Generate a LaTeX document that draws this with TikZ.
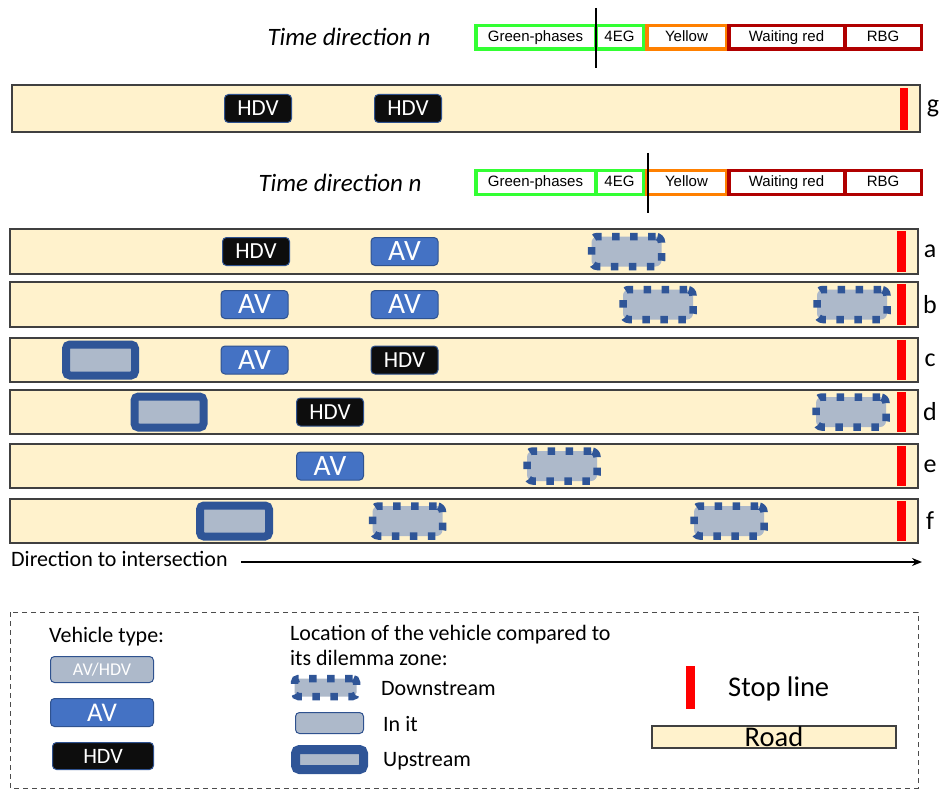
\documentclass[tikz,border=0pt]{standalone}
\usepackage{fontspec}
\setmainfont{Carlito}
\newfontfamily\arialf{Liberation Sans}
\usetikzlibrary{arrows.meta}
\definecolor{roadc}{HTML}{FFF2CC}
\definecolor{avc}{HTML}{4472C4}
\definecolor{hdvc}{HTML}{0D0D0D}
\definecolor{edgec}{HTML}{2F528F}
\definecolor{greyc}{HTML}{ADB9CA}
\definecolor{dzc}{HTML}{2F5597}
\definecolor{greenc}{HTML}{33FF33}
\definecolor{orangec}{HTML}{FF8000}
\definecolor{darkredc}{HTML}{B00000}
\tikzset{
  road/.style={draw=black!75, line width=1.3pt, fill=roadc},
  stopl/.style={fill=red, draw=none},
  veh/.style={rounded corners=4pt, line width=1pt, draw=edgec, inner sep=0pt, minimum width=67pt, minimum height=28pt},
  hdv/.style={veh, fill=hdvc, text=white, font=\fontsize{23}{23}\selectfont},
  av/.style={veh, fill=avc, text=white, font=\fontsize{29.5}{29.5}\selectfont},
  down/.style={fill=greyc, draw=dzc, line width=7.5pt, dash pattern=on 7.5pt off 10.5pt, rounded corners=6pt, minimum width=70pt, minimum height=30pt, inner sep=0pt},
  up/.style={fill=greyc, draw=dzc, line width=8pt, rounded corners=4pt, minimum width=69pt, minimum height=31pt, inner sep=0pt},
  seg/.style={draw=#1, line width=3.5pt, fill=white, font=\arialf\fontsize{15}{15}\selectfont, inner sep=0pt, minimum height=23.5pt, text height=10.5pt, text depth=2.5pt},
  lbl/.style={font=\fontsize{26}{26}\selectfont},
  tdir/.style={font=\itshape\fontsize{25}{25}\selectfont},
  txt/.style={font=\fontsize{22}{22}\selectfont, anchor=west, inner sep=0pt},
}
\begin{document}
\begin{tikzpicture}[x=1pt,y=-1pt]
\useasboundingbox (0,0) rectangle (940,789);

% ---- timeline 1
\node[tdir] (td1) at (349,37) {Time direction n};
\node[seg=greenc, minimum width=119.5pt] (g1a) at (535.5,37.5) {Green-phases};
\node[seg=greenc, minimum width=47.5pt] (g1b) at (619.5,37.5) {4EG};
\node[seg=orangec, minimum width=79.5pt] (y1) at (686.5,37.5) {Yellow};
\node[seg=darkredc, minimum width=115.5pt] (w1) at (786.5,37.5) {Waiting red};
\node[seg=darkredc, minimum width=76.5pt] (r1) at (883,37.5) {RBG};
\coordinate (t1a) at (596,8); \coordinate (t1b) at (596,68);
\draw[line width=2pt] (t1a) -- (t1b);

% ---- road g
\draw[road] (12,85) rectangle (920,132);
\fill[stopl] (900,88) rectangle (908,130);
\node[lbl] (lg) at (933,108) {g};
\node[hdv] (g1) at (258,108.5) {HDV};
\node[hdv] (g2) at (408,108.5) {HDV};

% ---- timeline 2
\node[tdir] (td2) at (340,183) {Time direction n};
\node[seg=greenc, minimum width=119.5pt] (g2a) at (535.5,182.5) {Green-phases};
\node[seg=greenc, minimum width=47.5pt] (g2b) at (619.5,182.5) {4EG};
\node[seg=orangec, minimum width=79.5pt] (y2) at (686.5,182.5) {Yellow};
\node[seg=darkredc, minimum width=115.5pt] (w2) at (786.5,182.5) {Waiting red};
\node[seg=darkredc, minimum width=76.5pt] (r2) at (883,182.5) {RBG};
\coordinate (t2a) at (648,153); \coordinate (t2b) at (648,213);
\draw[line width=2pt] (t2a) -- (t2b);

% ---- roads a-f
\foreach \t/\b/\l in {229/274/a,282/327/b,338/382/c,390/434/d,444/488/e,499/543/f}{
  \draw[road] (10,\t) rectangle (918,\b);
  \fill[stopl] (897,\t+2) rectangle (906,\b-2);
  \node[lbl] (lab\l) at (930,{(\t+\b)/2}) {\l};
}
% a
\node[hdv] (a1) at (256,251.5) {HDV};
\node[av] (a2) at (404.5,251.5) {AV};
\node[down] (a3) at (626.5,251.5) {};
% b
\node[av] (b1) at (254.5,304.5) {AV};
\node[av] (b2) at (404.5,304.5) {AV};
\node[down] (b3) at (658,304.5) {};
\node[down] (b4) at (852,304.5) {};
% c
\node[up] (c1) at (100.5,360) {};
\node[av] (c2) at (254.5,360) {AV};
\node[hdv] (c3) at (404.5,360) {HDV};
% d
\node[up] (d1) at (169,412) {};
\node[hdv] (d2) at (330,412) {HDV};
\node[down] (d3) at (851,412) {};
% e
\node[av] (e1) at (330,466) {AV};
\node[down] (e2) at (562,466) {};
% f
\node[up] (f1) at (234.5,521) {};
\node[down] (f2) at (407.5,521) {};
\node[down] (f3) at (729,521) {};

% ---- direction arrow
\node[txt] (dir) at (11,559) {Direction to intersection};
\coordinate (arrA) at (241,562); \coordinate (arrB) at (922,562);
\draw[line width=2pt, -{Stealth[length=10pt,width=8pt]}] (arrA) -- (arrB);

% ---- legend
\draw[dashed, line width=1pt, black!70, dash pattern=on 5pt off 4pt] (10,612) rectangle (918,788);
\node[txt] (vt) at (49,637) {Vehicle type:};
\node[veh, fill=greyc, text=white, minimum width=103pt, minimum height=26pt, font=\fontsize{18}{18}\selectfont] (lgrey) at (102,669.5) {AV/HDV};
\node[av, minimum width=103pt, minimum height=28pt, font=\fontsize{27}{27}\selectfont] (lav) at (102,712.5) {AV};
\node[hdv, minimum width=101pt, minimum height=27pt, font=\fontsize{22}{22}\selectfont] (lhdv) at (103,756) {HDV};

\node[txt, align=left, font=\fontsize{22}{25}\selectfont] (loc) at (290,645) {Location of the vehicle compared to\\its dilemma zone:};
\node[down, minimum width=62pt, minimum height=18pt, rounded corners=4pt] (ldown) at (325.5,687.5) {};
\node[txt] (tdown) at (381,689) {Downstream};
\node[veh, fill=greyc, minimum width=68pt, minimum height=21pt] (lin) at (329.5,723) {};
\node[txt] (tin) at (383,724) {In it};
\node[up, line width=9pt, minimum width=68pt, minimum height=20pt] (lup) at (329.5,759.5) {};
\node[txt] (tup) at (383,761) {Upstream};

\fill[stopl] (686,666) rectangle (695,709);
\node[txt, font=\fontsize{28.5}{28.5}\selectfont] (tstop) at (728,689) {Stop line};
\node[road, minimum width=244pt, minimum height=22pt, inner sep=0pt, font=\fontsize{28.5}{28.5}\selectfont] (lroad) at (774,737) {Road};
\end{tikzpicture}
\end{document}
